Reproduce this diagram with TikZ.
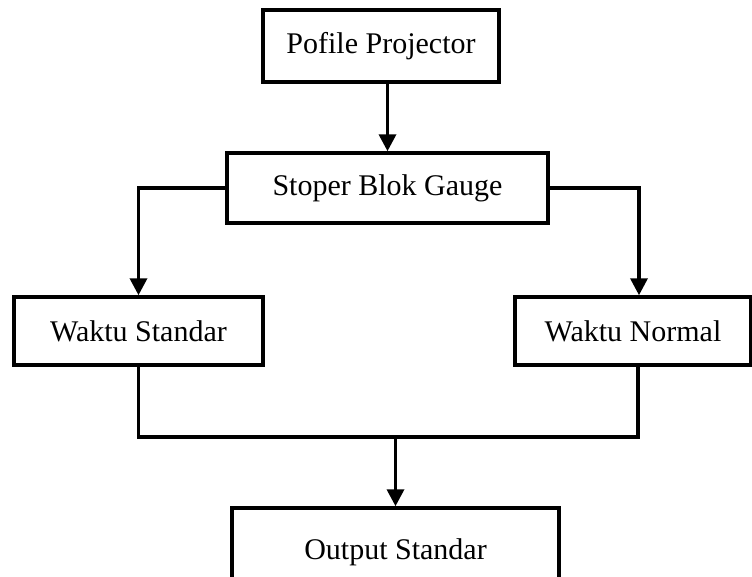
\documentclass[tikz,border=0pt]{standalone}
\usepackage{fontspec}
\setmainfont{Liberation Serif}
\usetikzlibrary{arrows.meta, calc}

\begin{document}
\begin{tikzpicture}[x=1pt, y=-1pt]
\clip (0, 0) rectangle (752, 576);
\begin{scope}[every node/.style={rectangle,draw=black,line width=3.5pt,fill=white,
              font=\fontsize{30}{36}\selectfont}]
    \node (pofile) at (381, 46) [minimum width=236pt, minimum height=72pt] {Pofile Projector};
    \node (stoper) at (387.5, 188) [minimum width=321pt, minimum height=70pt] {Stoper Blok Gauge};

    \node (standar) at (138.5, 331) [minimum width=249pt, minimum height=68pt] {Waktu Standar};
    \node (normal) at (633, 331) [minimum width=236pt, minimum height=68pt] {Waktu Normal};

    \node (output) at (395.5, 552) [minimum width=327pt, minimum height=88pt] {Output Standar};
\end{scope}

\coordinate (merge) at (395.5, 437);

\begin{scope}[>={Triangle[length=17pt,width=17pt]},
              every edge/.style={draw=black,line width=3.5pt}]
    \path [->] (stoper.north |- pofile.south) edge (stoper.north);
    \draw [->, line width=3.5pt] (stoper.west) -| (standar.north);
    \draw [->, line width=3.5pt] (stoper.east) -| ($(normal.north)+(6,0)$);
    \draw [line width=3.5pt] (standar.south) |- (merge) -| ($(normal.south)+(5,0)$);
    \path [->] (merge) edge (output.north);
\end{scope}
\end{tikzpicture}
\end{document}
